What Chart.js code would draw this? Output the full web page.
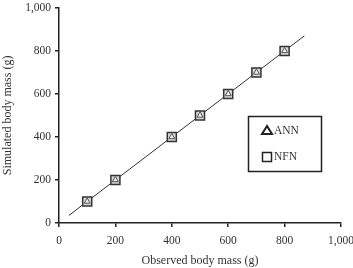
<!DOCTYPE html>
<html>
<head>
<meta charset="utf-8">
<script src="https://cdn.jsdelivr.net/npm/chart.js@4"></script>
<style>
  html, body { margin: 0; padding: 0; background: #fff; }
</style>
</head>
<body>
<canvas id="massChart" width="353" height="268"></canvas>
<script>
const observed = [100, 200, 400, 500, 600, 700, 800];
const annSimulated = [100, 200, 400, 500, 600, 700, 800];
const nfnSimulated = [100, 200, 400, 500, 600, 700, 800];
const fitLine = [35, 870];
const tickValues = [0, 200, 400, 600, 800, 1000];

const serif = "'Liberation Serif', 'DejaVu Serif', serif";

const toPoints = (xs, ys) => xs.map((x, i) => ({ x: x, y: ys[i] }));

// legend box drawn inside the plot, like the original
const boxLegend = {
    id: 'boxLegend',
    afterDraw(chart) {
        const c = chart.ctx;
        c.save();
        c.strokeStyle = '#222';
        c.lineWidth = 1.5;
        c.strokeRect(248.5, 116.5, 73, 55);

        // triangle
        c.beginPath();
        c.moveTo(267, 126);
        c.lineTo(262, 134);
        c.lineTo(272, 134);
        c.closePath();
        c.lineWidth = 2;
        c.stroke();

        // square
        c.lineWidth = 1.5;
        c.strokeRect(262.5, 152.5, 9, 9);

        c.fillStyle = '#333';
        c.font = '11.5px ' + serif;
        c.textBaseline = 'middle';
        c.fillText('ANN', 274, 131);
        c.fillText('NFN', 274, 157);
        c.restore();
    }
};

const ctx = document.getElementById('massChart').getContext('2d');
const massChart = new Chart(ctx, {
    type: 'scatter',
    data: {
        datasets: [
            {
                type: 'line',
                label: 'fit',
                data: toPoints(fitLine, fitLine),
                borderColor: '#333',
                borderWidth: 1,
                pointRadius: 0,
                fill: false,
                order: 3
            },
            {
                label: 'NFN',
                data: toPoints(observed, nfnSimulated),
                pointStyle: 'rect',
                pointRadius: 6.4,
                backgroundColor: 'rgba(215,215,215,1)',
                borderColor: '#333',
                borderWidth: 1.5,
                order: 2
            },
            {
                label: 'ANN',
                data: toPoints(observed, annSimulated),
                pointStyle: 'triangle',
                pointRadius: 3.5,
                backgroundColor: 'rgba(255,255,255,0.6)',
                borderColor: '#555',
                borderWidth: 1,
                order: 1
            }
        ]
    },
    options: {
        responsive: false,
        animation: false,
        layout: { padding: { left: 0, right: 0, top: 6, bottom: 0 } },
        plugins: {
            legend: { display: false },
            tooltip: { enabled: false }
        },
        scales: {
            x: {
                type: 'linear',
                min: 0,
                max: 1000,
                afterBuildTicks: (scale) => { scale.ticks = tickValues.map(v => ({ value: v })); },
                afterFit: (scale) => { scale.height = 45; scale.paddingRight = 12; },
                border: { display: true, color: '#222', width: 1.5 },
                grid: { drawOnChartArea: false, drawTicks: true, tickLength: 4, color: '#222', lineWidth: 1.5 },
                ticks: {
                    color: '#333',
                    font: { family: serif, size: 11.5 },
                    padding: 7,
                    maxRotation: 0,
                    callback: (v) => v.toLocaleString('en-US')
                },
                title: {
                    display: true,
                    text: 'Observed body mass (g)',
                    color: '#333',
                    font: { family: serif, size: 12 },
                    padding: { top: 5, bottom: 0 }
                }
            },
            y: {
                type: 'linear',
                min: 0,
                max: 1000,
                afterBuildTicks: (scale) => { scale.ticks = tickValues.map(v => ({ value: v })); },
                afterFit: (scale) => { scale.width = 59; scale.paddingTop = 0; },
                border: { display: true, color: '#222', width: 1.5 },
                grid: { drawOnChartArea: false, drawTicks: true, tickLength: 4, color: '#222', lineWidth: 1.5 },
                ticks: {
                    color: '#333',
                    font: { family: serif, size: 11.5 },
                    padding: 4,
                    callback: (v) => v.toLocaleString('en-US')
                },
                title: {
                    display: true,
                    text: 'Simulated body mass (g)',
                    color: '#333',
                    font: { family: serif, size: 12 },
                    padding: { top: 1, bottom: 0 }
                }
            }
        }
    },
    plugins: [boxLegend]
});
</script>
</body>
</html>
